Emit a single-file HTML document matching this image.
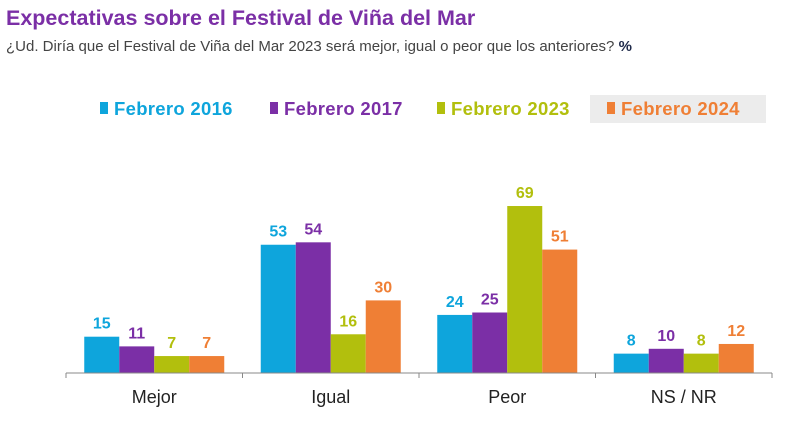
<!DOCTYPE html>
<html><head><meta charset="utf-8"><style>
body{margin:0;background:#fff;width:800px;height:439px;overflow:hidden;font-family:"Liberation Sans",sans-serif}
</style></head><body>
<svg width="800" height="439" xmlns="http://www.w3.org/2000/svg">
<text x="6" y="25" font-size="21.5" font-weight="bold" fill="#7b2fa6">Expectativas sobre el Festival de Viña del Mar</text>
<text x="6" y="51" font-size="15" fill="#444">¿Ud. Diría que el Festival de Viña del Mar 2023 será mejor, igual o peor que los anteriores? <tspan font-weight="bold" fill="#1f2a4a">%</tspan></text>
<rect x="590" y="95" width="176" height="28" fill="#ececec"/>
<g id="legend"></g>
<g id="bars"></g>
<line x1="66" y1="373" x2="772" y2="373" stroke="#888" stroke-width="1"/>
<g id="axis"></g>
</svg>
<script>
const categories=["Mejor","Igual","Peor","NS / NR"];
const seriesNames=["Febrero 2016","Febrero 2017","Febrero 2023","Febrero 2024"];
const s2016=[15,53,24,8];
const s2017=[11,54,25,10];
const s2023=[7,16,69,8];
const s2024=[7,30,51,12];
const series=[s2016,s2017,s2023,s2024];
const colors=["#0ea5dc","#7b2fa6","#b2bf0d","#ef7f35"];
const NS="http://www.w3.org/2000/svg";
const x0=66,x1=772,base=373,pxPer=2.42,bw=35;
const gw=(x1-x0)/categories.length;
function yScale(v){return base-v*pxPer;}
function mk(t,a,p){const e=document.createElementNS(NS,t);for(const k in a)e.setAttribute(k,a[k]);p.appendChild(e);return e;}
const bars=document.getElementById('bars'),axis=document.getElementById('axis'),leg=document.getElementById('legend');
for(let c=0;c<=categories.length;c++){
 const t=mk('line',{x1:x0+c*gw,x2:x0+c*gw,y1:373,y2:378,stroke:'#888'},axis);
 
 
}
categories.forEach((cat,c)=>{
 const cx=x0+gw*(c+0.5);
 const lab=mk('text',{x:cx,y:403,'text-anchor':'middle','font-size':18,fill:'#222'},axis);
 lab.textContent=cat;
 
 
 series.forEach((s,i)=>{
  const x=cx-2*bw+i*bw,y=yScale(s[c]);
  const r=mk('rect',{x:x,y:y,width:bw,height:base-y,fill:colors[i]},bars);
  
  
  const t=mk('text',{x:x+bw/2,y:y-8,'text-anchor':'middle','font-size':16,'font-weight':'bold',fill:colors[i]},bars);
  t.textContent=s[c];
  
  
 });
});
const lx=[100,270,437,607];
seriesNames.forEach((n,i)=>{
 const r=mk('rect',{x:lx[i],y:102,width:8,height:12,fill:colors[i]},leg);
 
 
 const t=mk('text',{x:lx[i]+14,y:115,'font-size':18.5,'font-weight':'bold','letter-spacing':'0.3',fill:colors[i]},leg);
 t.textContent=n;
 
 
});
</script>
</body></html>
